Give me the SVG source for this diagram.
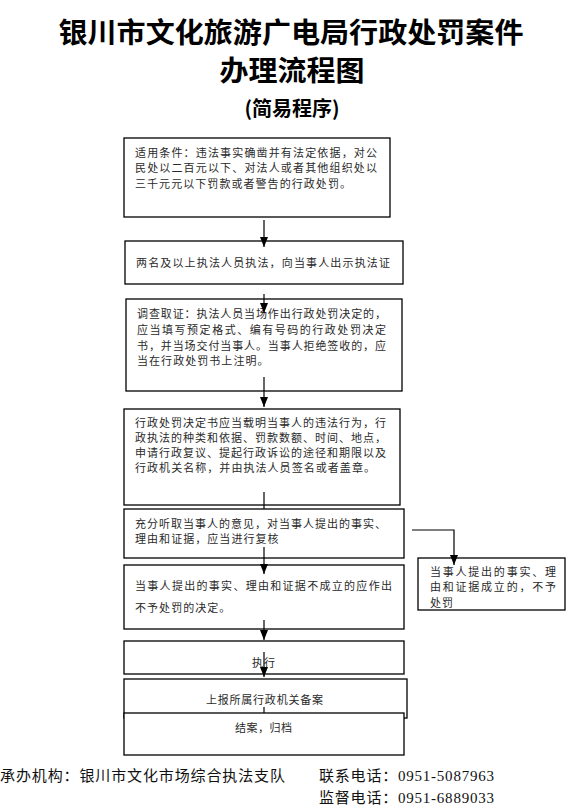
<svg xmlns="http://www.w3.org/2000/svg" width="587" height="812" viewBox="0 0 587 812">
<defs>
<marker id="ah" markerUnits="userSpaceOnUse" markerWidth="10" markerHeight="10" viewBox="0 0 10 10" refX="10" refY="5" orient="auto">
<path d="M0,1 L10,5 L0,9 Z" fill="#000"/>
</marker>
<style>
.box{fill:#fff;stroke:#000;stroke-width:1.3}
.t{font-family:"Noto Sans CJK SC","Noto Sans CJK JP",sans-serif;font-size:11px;fill:#2a2a2a;letter-spacing:1.05px}
.c{text-anchor:middle}
.title{font-family:"Noto Sans CJK SC",sans-serif;font-weight:bold;fill:#000;text-anchor:middle}
.f{font-family:"Liberation Serif","Noto Sans CJK SC",serif;font-size:15px;fill:#111}
.ln{stroke:#000;stroke-width:1.2;fill:none}
</style>
</defs>
<rect width="587" height="812" fill="#fff"/>
<g id="title">
<text class="title" x="291" y="43" font-size="28" textLength="465" lengthAdjust="spacingAndGlyphs">银川市文化旅游广电局行政处罚案件</text>
<text class="title" x="292" y="81" font-size="28" textLength="145" lengthAdjust="spacingAndGlyphs">办理流程图</text>
<text class="title" x="292" y="116" font-size="20">(简易程序)</text>
</g>
<g id="n1">
<rect class="box" x="124" y="138" width="266" height="79"/>
<text class="t" x="135" y="157" textLength="243">适用条件：违法事实确凿并有法定依据，对公</text>
<text class="t" x="135" y="172" textLength="243">民处以二百元以下、对法人或者其他组织处以</text>
<text class="t" x="135" y="188" textLength="217">三千元元以下罚款或者警告的行政处罚。</text>
</g>
<g id="n2">
<rect class="box" x="125" y="241" width="278" height="43"/>
<text class="t" x="136" y="267" textLength="255">两名及以上执法人员执法，向当事人出示执法证</text>
</g>
<g id="n3">
<rect class="box" x="126" y="299" width="276" height="92"/>
<text class="t" x="137" y="318" textLength="250">调查取证：执法人员当场作出行政处罚决定的，</text>
<text class="t" x="137" y="334" textLength="250">应当填写预定格式、编有号码的行政处罚决定</text>
<text class="t" x="137" y="350" textLength="250">书，并当场交付当事人。当事人拒绝签收的，应</text>
<text class="t" x="137" y="365">当在行政处罚书上注明。</text>
</g>
<g id="n4">
<rect class="box" x="124" y="409" width="276" height="96"/>
<text class="t" x="135" y="427" textLength="252">行政处罚决定书应当载明当事人的违法行为，行</text>
<text class="t" x="135" y="442" textLength="252">政执法的种类和依据、罚款数额、时间、地点，</text>
<text class="t" x="135" y="457" textLength="252">申请行政复议、提起行政诉讼的途径和期限以及</text>
<text class="t" x="135" y="472">行政机关名称，并由执法人员签名或者盖章。</text>
</g>
<g id="n5">
<rect class="box" x="124" y="509" width="280" height="49"/>
<text class="t" x="135" y="528" textLength="252">充分听取当事人的意见，对当事人提出的事实、</text>
<text class="t" x="135" y="543">理由和证据，应当进行复核</text>
</g>
<g id="n6">
<rect class="box" x="124" y="565" width="280" height="64"/>
<text class="t" x="135" y="590" textLength="258">当事人提出的事实、理由和证据不成立的应作出</text>
<text class="t" x="135" y="612" letter-spacing="1.3">不予处罚的决定。</text>
</g>
<g id="n10">
<rect class="box" x="418" y="558" width="147" height="52"/>
<text class="t" x="430" y="576" font-size="10.5" textLength="127">当事人提出的事实、理</text>
<text class="t" x="430" y="591" font-size="10.5" textLength="127">由和证据成立的，不予</text>
<text class="t" x="430" y="607" font-size="8.5" letter-spacing="0.5">处罚</text>
</g>
<g id="n7">
<rect class="box" x="124" y="641" width="280" height="33"/>
<text class="t c" x="264" y="667">执行</text>
</g>
<g id="n8">
<rect class="box" x="124" y="679" width="283" height="39"/>
<text class="t" x="206" y="704" textLength="118">上报所属行政机关备案</text>
</g>
<g id="n9">
<rect class="box" x="124" y="713" width="280" height="42"/>
<text class="t" x="235" y="732" textLength="58">结案，归档</text>
</g>
<g id="connectors">
<line class="ln" x1="264" y1="220" x2="264" y2="247" marker-end="url(#ah)"/>
<line class="ln" x1="264" y1="294" x2="264" y2="313" marker-end="url(#ah)"/>
<line class="ln" x1="264" y1="377" x2="264" y2="407" marker-end="url(#ah)"/>
<line class="ln" x1="264" y1="492" x2="264" y2="509"/>
<line class="ln" x1="264" y1="547" x2="264" y2="574" marker-end="url(#ah)"/>
<polyline class="ln" points="412,530 454,530 454,565" stroke="#666" marker-end="url(#ah)"/>
<line class="ln" x1="264" y1="620" x2="264" y2="640" marker-end="url(#ah)"/>
<line class="ln" x1="264" y1="652" x2="264" y2="677" marker-end="url(#ah)"/>
<line class="ln" x1="264" y1="707" x2="264" y2="713"/>
</g>
<g id="footer">
<text class="f" x="0" y="781" textLength="285">承办机构：银川市文化市场综合执法支队</text>
<text class="f" x="319" y="781" textLength="175">联系电话：0951-5087963</text>
<text class="f" x="319" y="803" textLength="175">监督电话：0951-6889033</text>
</g>
</svg>
